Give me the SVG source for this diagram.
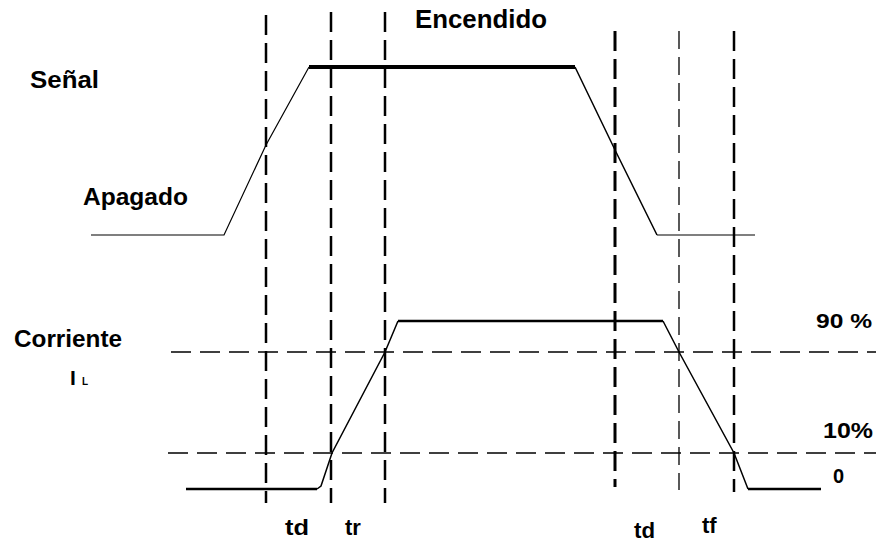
<svg xmlns="http://www.w3.org/2000/svg" width="876" height="542" viewBox="0 0 876 542">
<style>
.t{font-family:"Liberation Sans",Arial,sans-serif;font-weight:bold;font-size:22px;fill:#000}
.v{stroke:#000;stroke-width:2.5;stroke-dasharray:20 8;fill:none}
.vt{stroke:#000;stroke-width:1.3;stroke-dasharray:18 8;fill:none}
.h{stroke:#000;stroke-width:1.3;stroke-dasharray:20 9;fill:none}
.w{stroke:#000;fill:none;stroke-linejoin:miter}
</style>
<rect width="876" height="542" fill="#fff"/>
<g id="guides">
<line class="v" x1="266" y1="15" x2="266" y2="503"/>
<line class="v" x1="331" y1="12" x2="331" y2="503"/>
<line class="v" x1="385" y1="12" x2="385" y2="503"/>
<line class="v" x1="615" y1="31" x2="615" y2="487" style="stroke-width:3"/>
<line class="vt" x1="679" y1="31" x2="679" y2="490"/>
<line class="v" x1="734" y1="31" x2="734" y2="492"/>
<line class="h" x1="171" y1="352" x2="876" y2="352"/>
<line class="h" x1="168" y1="453" x2="876" y2="453"/>
</g>
<g id="signal">
<polyline class="w" stroke-width="1.2" points="91,235 224,235 266,145 309,67"/>
<line class="w" stroke-width="4" x1="309" y1="67" x2="575" y2="67"/>
<polyline class="w" stroke-width="1.5" points="575,67 616,152 657,235"/>
<line class="w" stroke-width="1.2" x1="657" y1="235" x2="755" y2="235"/>
</g>
<g id="current">
<polyline class="w" stroke-width="2.5" points="186,489 317,489"/>
<polyline class="w" stroke-width="1.5" points="317,489 321,486 332,453 385,352 398,321"/>
<line class="w" stroke-width="2.5" x1="398" y1="321" x2="663" y2="321"/>
<polyline class="w" stroke-width="1.5" points="663,321 679,352 734,453 748,489"/>
<line class="w" stroke-width="2.5" x1="748" y1="489" x2="821" y2="489"/>
</g>
<g id="labels">
<text class="t" x="30" y="88" textLength="69" lengthAdjust="spacingAndGlyphs" style="font-size:24px">Señal</text>
<text class="t" x="83" y="205" textLength="105" lengthAdjust="spacingAndGlyphs" style="font-size:23px">Apagado</text>
<text class="t" x="415" y="28" textLength="132" lengthAdjust="spacingAndGlyphs" style="font-size:25px">Encendido</text>
<text class="t" x="14" y="347" textLength="108" lengthAdjust="spacingAndGlyphs" style="font-size:23px">Corriente</text>
<text class="t" x="70" y="385" style="font-size:21px">I</text>
<text class="t" x="82" y="385" style="font-size:10px">L</text>
<text class="t" x="816" y="328" textLength="56" lengthAdjust="spacingAndGlyphs" style="font-size:21px">90 %</text>
<text class="t" x="823" y="438" textLength="50" lengthAdjust="spacingAndGlyphs" style="font-size:22px">10%</text>
<text class="t" x="833" y="483" style="font-size:20px">0</text>
<text class="t" x="285" y="535" textLength="24" lengthAdjust="spacingAndGlyphs">td</text>
<text class="t" x="345" y="535">tr</text>
<text class="t" x="634" y="538" textLength="21" lengthAdjust="spacingAndGlyphs">td</text>
<text class="t" x="702" y="533">tf</text>
</g>
</svg>
